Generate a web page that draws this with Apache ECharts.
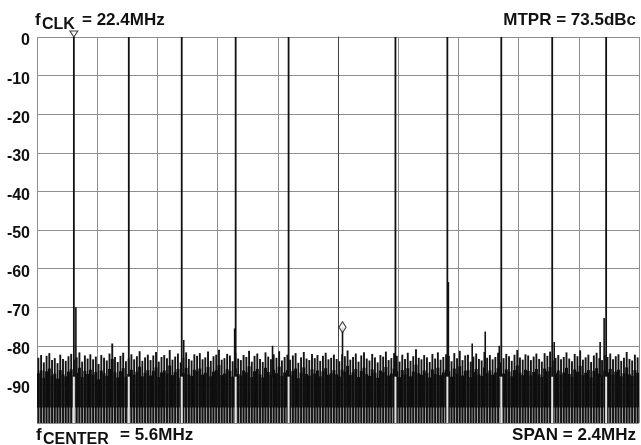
<!DOCTYPE html>
<html>
<head>
<meta charset="utf-8">
<script src="https://cdn.jsdelivr.net/npm/echarts@6/dist/echarts.min.js"></script>
<style>html,body{margin:0;padding:0;background:#fff}#c{width:641px;height:445px}</style>
</head>
<body>
<div id="c"></div>
<script>
// ---- data (frequency offsets in kHz from f_CENTER = 5.6MHz, levels in dBc) ----
const Y_TICKS = [0, -10, -20, -30, -40, -50, -60, -70, -80, -90];
const TONE_KHZ = [-1053, -834, -623, -408, -197, 229, 436, 651, 854, 1069];
const TONE_DB  = [0, 0, 0, 0, 0, 0, 0, 0, 0, 0];
const SPUR_KHZ = [-1045, -615, -412, -261, 18, 440, 535, 587, 643, 862, 1045, 1061];
const SPUR_DB  = [-70, -78.5, -75.5, -80, -75.2, -63.5, -79.4, -76.3, -80, -79, -79, -72.8];
const NOTCH_KHZ = [18];
const NOTCH_DB  = [-75.2];
const NOISE_DB = [
 -83.1,-82.4,-84.3,-82.6,-81.9,-83.7,-83.2,-84.5,-82.3,-83.4,
 -83.9,-82.7,-82.1,-83.6,-83.0,-81.7,-84.1,-82.5,-83.3,-82.2,
 -83.5,-82.8,-84.7,-82.4,-83.1,-83.8,-82.0,-79.4,-82.9,-84.2,
 -82.6,-81.8,-84.0,-83.3,-82.2,-83.5,-82.7,-81.4,-83.9,-83.0,
 -82.3,-83.7,-82.5,-81.6,-84.1,-82.9,-82.4,-83.2,-81.1,-83.6,
 -82.8,-82.0,-84.3,-83.1,-81.7,-83.4,-83.8,-82.2,-82.6,-81.9,
 -83.5,-83.0,-81.5,-83.9,-82.7,-82.3,-81.0,-83.6,-83.2,-82.1,
 -82.5,-84.0,-81.8,-83.3,-83.7,-82.4,-82.9,-81.3,-84.1,-82.6,
 -82.0,-83.4,-84.2,-81.7,-82.8,-83.5,-82.2,-83.1,-81.4,-83.8,
 -82.9,-82.3,-83.6,-82.5,-81.9,-84.4,-83.0,-81.6,-83.3,-83.7,
 -82.1,-83.2,-82.4,-83.9,-82.6,-81.8,-83.5,-83.1,-82.3,-83.4,
 -84.0,-82.2,-82.7,-81.2,-83.6,-82.9,-82.0,-84.1,-82.5,-81.7,
 -83.3,-83.8,-82.1,-83.0,-84.3,-82.4,-82.8,-81.5,-83.7,-83.2,
 -81.9,-82.6,-84.1,-82.3,-83.4,-81.8,-83.9,-82.7,-80.9,-83.1,
 -83.5,-82.4,-83.0,-84.2,-82.1,-83.3,-81.7,-83.6,-82.9,-82.2,
 -82.6,-84.0,-81.9,-83.2,-81.3,-83.7,-82.5,-82.3,-84.1,-82.8,
 -82.0,-83.4,-83.8,-81.6,-83.1,-82.4,-83.5,-82.9,-81.8,-84.3,
 -83.2,-82.1,-82.7,-83.9,-82.3,-81.1,-83.0,-83.6,-82.2,-82.5,
 -83.7,-82.8,-82.0,-83.4,-84.1,-81.9,-82.6,-81.5,-83.8,-83.1,
 -82.4,-83.5,-82.9,-81.7,-83.3,-84.0,-82.1,-82.7,-81.2,-83.6,
 -83.0,-82.3,-84.2,-82.5,-81.8,-83.2,-83.7,-82.4,-82.9,-82.0,
 -83.5,-82.7,-82.2,-83.9,-83.1,-81.6,-83.4,-83.8,-82.3,-83.0
];
const SPAN_KHZ = 2400;

// ---- build ----
const FONT = '"Liberation Sans", Arial, Helvetica, sans-serif';
const step = SPAN_KHZ / NOISE_DB.length;
const noiseData = NOISE_DB.map((v, i) => [-SPAN_KHZ / 2 + (i + 0.5) * step, v]);
const toneData = TONE_KHZ.map((f, i) => [f, TONE_DB[i]]);
const spurData = SPUR_KHZ.map((f, i) => [f, SPUR_DB[i]]);
const notchData = NOTCH_KHZ.map((f, i) => [f, NOTCH_DB[i]]);

const chart = echarts.init(document.getElementById('c'), null, {renderer: 'canvas'});

function noiseItem(params, api) {
  const x = api.value(0), v = api.value(1);
  const top = api.coord([x, v]);
  const bot = api.coord([x, -100]);
  const w = api.size([step, 0])[0] + 0.2;
  const bandTop = api.coord([x, v - 4])[1];
  const bandBot = api.coord([x, -96])[1];
  return {type: 'group', children: [
    {type: 'rect', shape: {x: top[0] - w / 2, y: bandBot, width: w, height: bot[1] - bandBot}, style: {fill: '#9c9c9c'}},
    {type: 'rect', shape: {x: top[0] - 0.95, y: top[1], width: 1.9, height: bot[1] - top[1]}, style: {fill: '#141414'}},
    {type: 'rect', shape: {x: top[0] - w / 2, y: bandTop, width: w, height: bandBot - bandTop}, style: {fill: '#0e0e0e'}}
  ]};
}
function toneItem(params, api) {
  const x = api.value(0), v = api.value(1);
  const top = api.coord([x, v]);
  const mid = api.coord([x, -88]);
  const bot = api.coord([x, -100]);
  return {type: 'group', children: [
    {type: 'rect', shape: {x: top[0] - 0.9, y: top[1], width: 1.8, height: mid[1] - top[1]}, style: {fill: '#111'}},
    {type: 'rect', shape: {x: top[0] - 1.0, y: mid[1], width: 2.0, height: bot[1] - mid[1]}, style: {fill: '#e4e4e4'}}
  ]};
}
function spurItem(params, api) {
  const x = api.value(0), v = api.value(1);
  const top = api.coord([x, v]);
  const bot = api.coord([x, -88]);
  return {type: 'rect', shape: {x: top[0] - 0.8, y: top[1], width: 1.6, height: bot[1] - top[1]}, style: {fill: '#111'}};
}

function txt(x, y, s, size, align) {
  return {type: 'text', x: x, y: y, z: 100, style: {text: s, font: 'bold ' + size + 'px ' + FONT, fill: '#111', align: align || 'left', verticalAlign: 'middle'}};
}

chart.setOption({
  animation: false,
  backgroundColor: '#fff',
  grid: {left: 37, right: 2, top: 37, bottom: 22, containLabel: false},
  xAxis: {
    type: 'value', min: -SPAN_KHZ / 2, max: SPAN_KHZ / 2, interval: 240,
    axisLine: {show: false}, axisTick: {show: false}, axisLabel: {show: false},
    splitLine: {show: true, lineStyle: {color: '#8f8f8f', width: 1}}
  },
  yAxis: {
    type: 'value', min: -100, max: 0, interval: 10,
    axisLine: {show: true, lineStyle: {color: '#444', width: 1}},
    axisTick: {show: false},
    axisLabel: {
      margin: 7, color: '#111', fontSize: 16, fontWeight: 'bold', fontFamily: FONT,
      verticalAlign: 'top', lineHeight: 8,
      formatter: v => (Y_TICKS.indexOf(v) >= 0 ? String(v) : '')
    },
    splitLine: {show: true, lineStyle: {color: '#8f8f8f', width: 1}}
  },
  series: [
    {type: 'custom', name: 'noise', data: noiseData, renderItem: noiseItem, clip: true, z: 2},
    {type: 'custom', name: 'spurs', data: spurData, renderItem: spurItem, clip: true, z: 3},
    {type: 'custom', name: 'tones', data: toneData, renderItem: toneItem, clip: true, z: 4},
    {type: 'scatter', name: 'notch', data: notchData, symbol: 'diamond', symbolSize: [7, 11], clip: false, z: 6,
      itemStyle: {color: '#fff', borderColor: '#111', borderWidth: 1.2}},
    {type: 'scatter', name: 'ref', data: [toneData[0]], symbol: 'triangle', symbolRotate: 180, symbolSize: [8, 6], symbolOffset: [0, -3], clip: false, z: 6,
      itemStyle: {color: '#fff', borderColor: '#111', borderWidth: 1}}
  ],
  graphic: [
    txt(35, 20, 'f', 17),
    txt(42, 24.5, 'CLK', 16),
    txt(82, 20, '= 22.4MHz', 17),
    txt(636, 20, 'MTPR = 73.5dBc', 17, 'right'),
    txt(36, 435, 'f', 17),
    txt(43, 440, 'CENTER', 16),
    txt(120, 435, '= 5.6MHz', 17),
    txt(636, 435, 'SPAN = 2.4MHz', 17, 'right')
  ]
});
</script>
</body>
</html>
